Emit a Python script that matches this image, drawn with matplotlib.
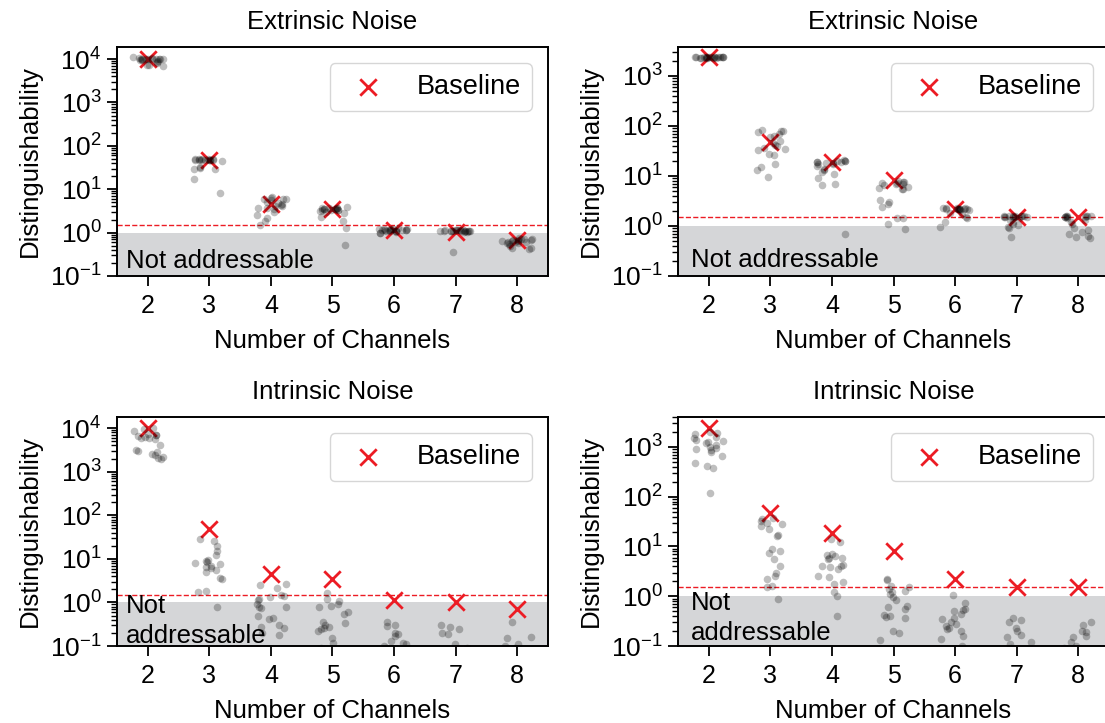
import matplotlib
matplotlib.use("Agg")
import matplotlib.pyplot as plt
from matplotlib.ticker import LogLocator, NullFormatter
import numpy as np

plt.rcParams.update({
    "font.family": ["Liberation Sans", "DejaVu Sans"],
    "mathtext.fontset": "custom",
    "mathtext.rm": "Liberation Sans",
    "mathtext.it": "Liberation Sans:italic",
    "mathtext.bf": "Liberation Sans:bold",
    "axes.linewidth": 1.4,
    "xtick.major.width": 1.3,
    "ytick.major.width": 1.3,
    "ytick.minor.width": 1.0,
    "xtick.major.size": 7,
    "ytick.major.size": 7,
    "ytick.minor.size": 4,
    "font.size": 18,
})

channels = [2, 3, 4, 5, 6, 7, 8]

# baseline distinguishability, left panels and right panels
baseline_left = [10000, 48, 4.5, 3.5, 1.13, 1.05, 0.69]
baseline_right = [2400, 48, 19, 8.3, 2.2, 1.5, 1.5]
threshold = 1.5

ext_left = [
    [10000, 10200, 9800, 10500, 9500, 10000, 11000, 9000, 8000, 7500,
     10000, 10300, 9700, 10100, 9900, 7200, 10000, 8500, 10400, 6800],
    [48, 50, 47, 49, 46, 48, 51, 45, 49, 47, 48, 50, 30, 32, 29, 31, 47, 17.5, 8.2, 46],
    [6.0, 5.8, 6.3, 4.6, 4.2, 4.8, 3.7, 6.5, 5.5, 4.0, 3.6, 3.0, 2.6, 2.2, 1.9, 1.5, 4.4, 5.0, 6.1, 3.5],
    [3.5, 3.6, 3.4, 3.7, 3.3, 3.5, 3.6, 3.2, 3.8, 3.5, 3.4, 3.0, 2.9, 3.6, 2.3, 1.9, 1.25, 0.52, 3.5, 3.3],
    [1.15, 1.2, 1.1, 1.18, 1.12, 1.25, 1.05, 1.15, 1.2, 1.1, 1.0, 1.15, 1.22, 1.08, 1.17, 1.13, 1.19, 1.1, 1.0, 1.15],
    [1.1, 1.12, 1.08, 1.15, 1.05, 1.1, 1.13, 1.07, 1.1, 1.16, 1.02, 1.1, 1.12, 1.09, 1.1, 1.14, 1.06, 1.1, 0.36, 1.1],
    [0.65, 0.7, 0.6, 0.68, 0.72, 0.55, 0.62, 0.66, 0.58, 0.45, 0.44, 0.75, 0.64, 0.5, 0.67, 0.6, 0.7, 0.63, 0.57, 0.42],
]

ext_right = [
    [2300, 2350, 2400, 2380, 2320, 2360, 2400, 2340, 2370, 2390,
     2310, 2350, 2380, 2360, 2330, 2400, 2370, 2350, 2340, 2360],
    [84, 80, 78, 75, 62, 60, 45, 42, 36, 34, 27, 26, 17, 15, 13, 9.5, 70, 50, 40, 33],
    [20, 19, 21, 18, 20, 17, 19, 16, 14, 13, 12, 11, 9, 7, 6.5, 20, 19, 18, 0.68, 17],
    [7.5, 7.8, 7.2, 6.5, 7.0, 5.8, 5.5, 6.0, 7.6, 3.3, 3.0, 2.8, 2.4, 1.45, 1.42, 1.1, 0.88, 6.8, 7.3, 5.6],
    [2.2, 2.25, 2.2, 2.15, 2.2, 2.3, 2.1, 2.2, 2.25, 2.2, 1.8, 1.7, 1.5, 1.45, 1.2, 0.95, 2.2, 2.15, 2.3, 2.1],
    [1.55, 1.6, 1.5, 1.55, 1.6, 1.5, 1.52, 1.58, 1.5, 1.2, 1.1, 1.05, 0.95, 0.9, 0.6, 1.55, 1.5, 1.6, 1.45, 1.3],
    [1.5, 1.55, 1.6, 1.5, 1.45, 1.52, 1.55, 1.2, 1.1, 0.85, 0.75, 0.7, 0.6, 0.58, 0.9, 1.5, 1.55, 1.3, 1.6, 0.62],
]

int_left = [
    [10000, 9500, 8500, 7500, 6900, 6500, 6000, 5800, 5500, 4000,
     3200, 3000, 2800, 2600, 2400, 2200, 2000, 2100, 7000, 6200],
    [26, 28, 20, 15, 12, 9.5, 9, 8.5, 8, 7.6, 7, 6.5, 6.3, 5.5, 5, 3.7, 3.4, 1.8, 1.75, 0.8],
    [2.7, 2.5, 2.2, 1.5, 1.4, 1.2, 1.15, 0.8, 0.78, 0.75, 0.45, 0.42, 0.3, 0.28, 0.26, 0.2, 0.18, 0.5, 1.3, 0.9],
    [1.65, 1.2, 1.1, 0.85, 0.8, 0.6, 0.55, 0.33, 0.3, 0.28, 0.26, 0.24, 0.22, 0.12, 0.09, 0.07, 0.05, 0.15, 0.35, 0.9],
    [0.35, 0.3, 0.29, 0.2, 0.19, 0.17, 0.13, 0.12, 0.11, 0.1, 0.08, 0.06, 0.05, 0.04, 0.09, 0.07, 0.03, 0.06, 0.05, 0.02],
    [0.3, 0.28, 0.24, 0.2, 0.19, 0.11, 0.09, 0.07, 0.05, 0.04, 0.03, 0.06, 0.08, 0.02, 0.05, 0.03, 0.04, 0.06, 0.07, 0.01],
    [0.35, 0.16, 0.15, 0.11, 0.1, 0.08, 0.06, 0.05, 0.04, 0.03, 0.07, 0.02, 0.05, 0.09, 0.03, 0.04, 0.06, 0.02, 0.01, 0.05],
]

int_right = [
    [2000, 1900, 1800, 1600, 1500, 1300, 1250, 1200, 1100, 1000,
     950, 900, 850, 800, 650, 480, 420, 380, 118, 1400],
    [38, 35, 33, 28, 26, 22, 17, 16, 9, 8, 7.5, 5.5, 4, 3, 2.6, 2.2, 1.6, 1.55, 0.87, 30],
    [14, 12.5, 7, 6.8, 6, 5.5, 4.2, 4, 3.8, 3.5, 2.5, 2.4, 1.9, 1.75, 1.2, 1.0, 0.4, 6.5, 5.8, 4.1],
    [2.2, 2.1, 1.6, 1.5, 1.4, 1.2, 1.1, 0.85, 0.65, 0.55, 0.4, 0.38, 0.36, 0.2, 0.18, 0.13, 1.3, 0.6, 0.95, 0.42],
    [1.05, 0.72, 0.55, 0.5, 0.52, 0.36, 0.3, 0.28, 0.25, 0.23, 0.2, 0.16, 0.14, 0.1, 0.08, 0.06, 0.35, 0.45, 0.22, 0.05],
    [0.36, 0.33, 0.3, 0.23, 0.2, 0.17, 0.15, 0.12, 0.11, 0.09, 0.07, 0.05, 0.04, 0.03, 0.06, 0.08, 0.02, 0.05, 0.04, 0.03],
    [0.3, 0.27, 0.2, 0.19, 0.16, 0.15, 0.12, 0.1, 0.08, 0.06, 0.05, 0.04, 0.03, 0.07, 0.05, 0.02, 0.04, 0.09, 0.03, 0.06],
]

RED = "#ec1c24"
SHADE = "#d5d6d8"

fig = plt.figure(figsize=(11.05, 7.23), dpi=100)

panels = [
    # (data, baseline, title, rect, ylim_top, text, text_xy)
    (ext_left, baseline_left, "Extrinsic Noise", [0.1059, 0.6183, 0.390, 0.3167], 1.9e4,
     "Not addressable", (0.02, 0.035)),
    (ext_right, baseline_right, "Extrinsic Noise", [0.6136, 0.6183, 0.390, 0.3167], 3.8e3,
     "Not addressable", (0.03, 0.04)),
    (int_left, baseline_left, "Intrinsic Noise", [0.1059, 0.1065, 0.390, 0.3167], 1.8e4,
     "Not\naddressable", (0.02, 0.013)),
    (int_right, baseline_right, "Intrinsic Noise", [0.6136, 0.1065, 0.390, 0.3167], 4.0e3,
     "Not\naddressable", (0.03, 0.026)),
]

rng = np.random.default_rng(7)

for data, base, title, rect, ytop, note, note_xy in panels:
    ax = fig.add_axes(rect)
    ax.set_yscale("log")
    ax.yaxis.set_major_locator(LogLocator(base=10, numticks=20))
    ax.yaxis.set_minor_locator(LogLocator(base=10, subs=np.arange(2, 10), numticks=20))
    ax.yaxis.set_minor_formatter(NullFormatter())
    ax.axhspan(1e-4, 1.0, color=SHADE, lw=0, zorder=0)
    ax.axhline(threshold, color=RED, lw=1, ls="--", zorder=1)
    ax.scatter(channels, base, marker="x", s=140, color=RED, linewidths=2,
               zorder=2, label="Baseline")
    for c, vals in zip(channels, data):
        xs = c + rng.uniform(-0.25, 0.25, len(vals))
        ax.scatter(xs, vals, s=30, color="black", alpha=0.25, lw=0, zorder=3)
    ax.set_xlim(1.5, 8.5)
    ax.set_ylim(0.1, ytop)
    ax.set_xticks(channels)
    ax.tick_params(axis="x", labelsize=18, pad=6)
    ax.tick_params(axis="y", which="major", labelsize=19, pad=4)
    ax.set_title(title, fontsize=18.5, pad=13)
    ax.set_xlabel("Number of Channels", fontsize=18.5, labelpad=8)
    ax.set_ylabel("Distinguishability", fontsize=18.5, labelpad=6)
    ax.text(note_xy[0], note_xy[1], note, transform=ax.transAxes,
            fontsize=18.5, va="baseline", ha="left", linespacing=1.3, zorder=4)
    ax.legend(loc="upper right", fontsize=19.5, frameon=True, borderaxespad=0.6)

fig.savefig("out.png", dpi=100)
